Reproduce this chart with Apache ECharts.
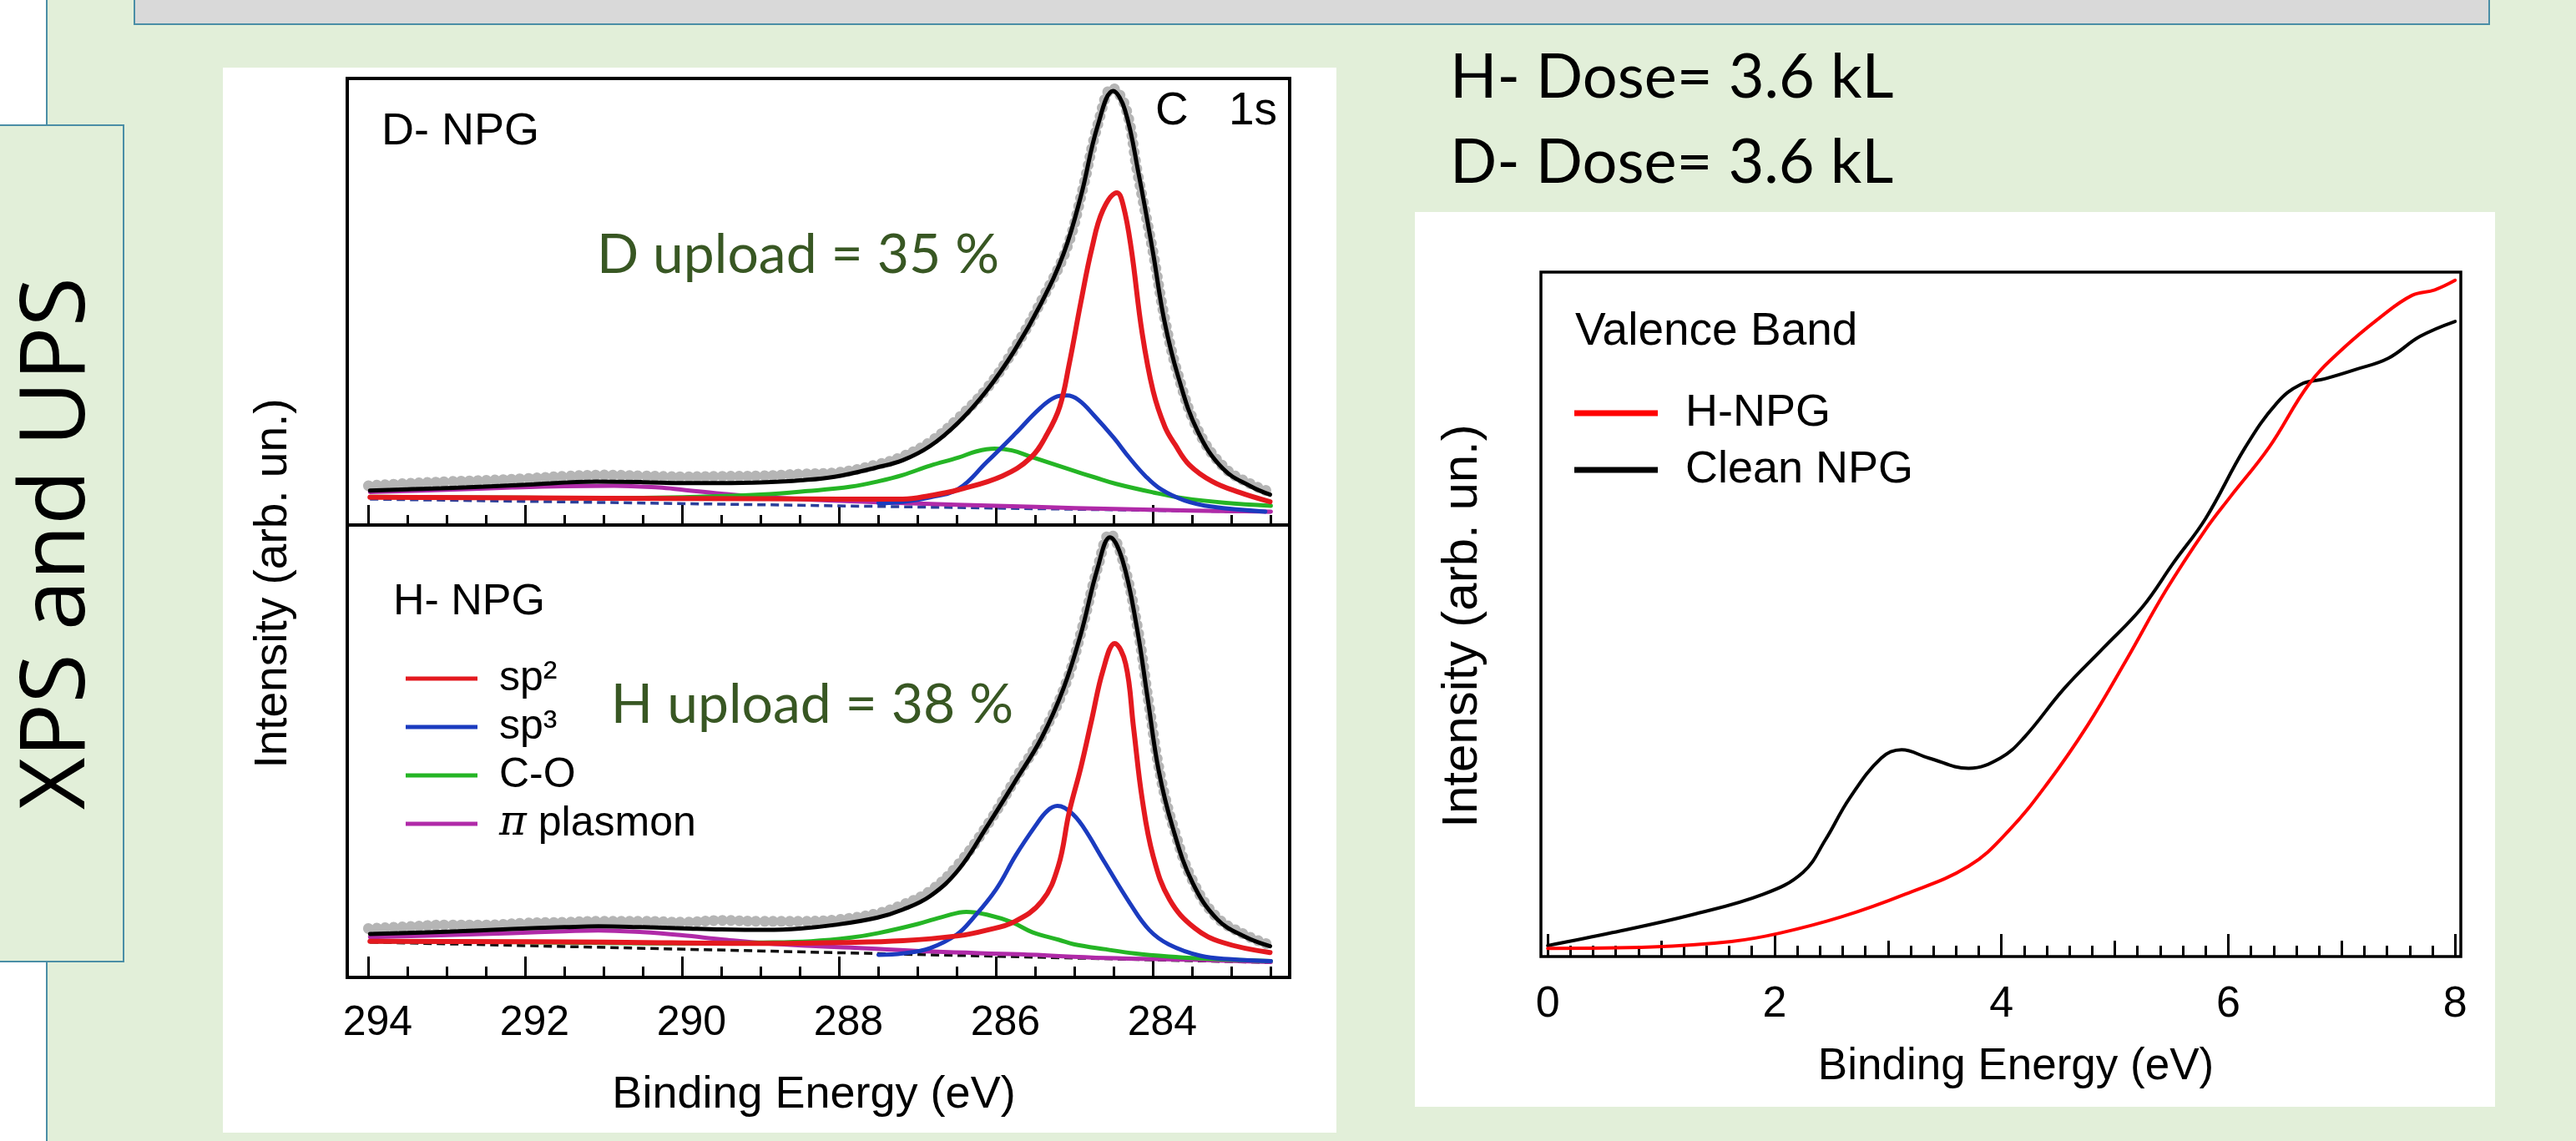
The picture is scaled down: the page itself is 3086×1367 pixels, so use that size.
<!DOCTYPE html>
<html>
<head>
<meta charset="utf-8">
<script src="https://cdn.jsdelivr.net/npm/echarts@6.0.0/dist/echarts.min.js"></script>
<style>
html,body{margin:0;padding:0;background:#e2efd9;}
#chart{width:3086px;height:1367px;}
</style>
</head>
<body>
<div id="chart"></div>
<script>
// ---------- tick labels ----------
const xpsTickLabels = [294, 292, 290, 288, 286, 284];
const vbTickLabels = [0, 2, 4, 6, 8];
const vbMidTicks = [1, 3, 5, 7];

// ---------- C 1s, D-NPG (upper panel) ----------
const dMeasured = [[294.0,8.8],[293.5,9.3],[293.0,9.7],[292.5,10.0],[292.0,10.4],[291.5,10.9],[291.0,11.2],[290.5,11.0],[290.0,10.8],[289.5,10.9],[289.0,11.0],[288.5,11.4],[288.0,11.8],[287.5,13.6],[287.2,15.3],[286.85,18.5],[286.5,23.6],[286.1,31],[285.75,40],[285.4,51],[285.1,62],[284.9,75],[284.7,90],[284.52,97.8],[284.35,93.5],[284.2,79],[284.0,61],[283.85,46],[283.68,33.5],[283.43,21.3],[283.1,13],[282.76,9.2],[282.51,7.4]];
const dEnvelope = [[293.98,7.7],[293.5,8.0],[292.92,8.3],[292.0,9.0],[291.09,9.7],[290.5,9.6],[290.0,9.4],[289.5,9.4],[288.93,9.6],[288.5,10.0],[288.06,10.8],[287.52,12.9],[287.19,14.5],[286.84,17.7],[286.48,23.0],[286.13,29.9],[285.77,39.0],[285.42,49.9],[285.14,60.8],[284.92,73.7],[284.71,89.2],[284.51,97.2],[284.36,93.0],[284.18,78.2],[284.0,60.8],[283.86,46.0],[283.68,33.2],[283.43,20.9],[283.11,12.6],[282.76,8.7],[282.51,6.8]];
const dSp2 = [[293.98,6.2],[291.0,6.0],[289.0,5.9],[288.0,5.8],[287.19,5.8],[286.84,6.6],[286.48,7.9],[285.92,11.0],[285.56,15.1],[285.35,20.4],[285.19,26.5],[285.07,36],[284.92,50],[284.78,62],[284.64,70.5],[284.46,74.4],[284.38,71.5],[284.28,62],[284.14,43],[284.0,30],[283.85,22],[283.72,18],[283.54,13.5],[283.25,9.8],[282.9,7.3],[282.51,5.2]];
const dSp3 = [[287.5,4.9],[287.19,5.2],[286.84,6.2],[286.48,8.1],[286.12,14.1],[285.76,20.4],[285.45,26],[285.25,28.6],[285.10,29.0],[284.95,28.0],[284.75,24.5],[284.5,19.5],[284.3,15],[284.1,11],[283.9,8],[283.6,5.5],[283.25,4.1],[282.57,3.0]];
const dCO = [[293.98,6.3],[292.0,6.1],[291.0,6.0],[290.0,6.2],[289.0,6.8],[288.4,7.6],[287.85,8.6],[287.5,9.8],[287.19,11.2],[286.84,13.3],[286.48,15.1],[286.25,16.5],[286.02,17.1],[285.8,16.7],[285.56,15.3],[285.3,13.8],[285.04,12.3],[284.75,10.7],[284.47,9.2],[284.0,7.3],[283.61,6.0],[283.1,5.0],[282.5,4.3]];
const dPlasmon = [[293.98,7.4],[293.0,7.9],[292.17,8.4],[291.5,8.7],[290.87,8.8],[290.3,8.4],[290.0,7.9],[289.5,7.0],[288.93,6.2],[288.0,5.4],[287.0,4.8],[286.0,4.3],[285.0,3.8],[284.0,3.4],[283.0,3.1],[282.5,3.0]];
const dBackground = [[293.98,5.8],[282.5,2.9]];

// ---------- C 1s, H-NPG (lower panel) ----------
const hMeasured = [[294.0,10.8],[293.5,11.2],[293.0,11.6],[292.5,11.6],[292.0,12.0],[291.5,12.2],[291.0,12.4],[290.5,12.4],[290.0,12.2],[289.5,12.6],[289.0,12.4],[288.5,12.4],[288.0,12.8],[287.5,14.2],[287.2,16.0],[286.85,19.0],[286.5,24.6],[286.1,34],[285.75,44],[285.4,54],[285.1,65.5],[284.9,77.5],[284.7,91],[284.55,98],[284.4,93],[284.2,77.5],[284.05,60],[283.9,44],[283.72,32],[283.5,21.5],[283.2,13.5],[282.85,9.6],[282.55,7.4]];
const hEnvelope = [[293.98,9.6],[293.0,10.1],[292.17,10.7],[291.5,11.1],[291.07,11.3],[290.5,11.1],[290.0,10.85],[289.5,10.6],[288.93,10.5],[288.5,10.8],[288.06,11.6],[287.52,13.2],[287.19,15.0],[286.84,18.0],[286.48,23.8],[286.13,33.0],[285.77,43.0],[285.42,53],[285.14,64.0],[284.92,76.0],[284.71,90.3],[284.55,97.3],[284.39,92.2],[284.21,77.6],[284.07,61.7],[283.93,45.8],[283.75,33.1],[283.5,21.0],[283.18,12.8],[282.83,9.0],[282.51,6.9]];
const hSp2 = [[293.98,8.0],[291.0,7.8],[289.0,7.5],[288.0,7.7],[287.19,8.1],[286.48,9.2],[286.13,10.4],[285.77,12.3],[285.42,16.8],[285.21,24.5],[285.07,36.5],[284.92,46.5],[284.78,57.2],[284.64,67.8],[284.49,73.8],[284.35,69.3],[284.25,55.3],[284.14,39.5],[284.0,26.8],[283.79,17.2],[283.47,10.9],[283.11,7.7],[282.51,5.5]];
const hSp3 = [[287.5,5.0],[287.19,5.3],[286.84,6.5],[286.5,9.5],[286.3,13],[286.0,19.5],[285.75,27],[285.5,33.5],[285.35,36.8],[285.22,37.9],[285.05,36.5],[284.9,33.5],[284.62,25.5],[284.3,16.5],[284.05,10.5],[283.8,7.3],[283.4,4.8],[283.0,4.0],[282.5,3.6]];
const hCO = [[293.98,8.0],[292.0,7.8],[290.0,7.5],[289.0,7.7],[288.36,8.0],[287.85,8.8],[287.5,9.8],[287.0,11.8],[286.66,13.5],[286.38,14.5],[286.1,13.8],[285.8,12.2],[285.54,10.0],[285.2,8.3],[285.0,7.3],[284.6,6.2],[284.24,5.3],[283.8,4.6],[283.4,4.2],[282.5,3.6]];
const hPlasmon = [[293.98,8.9],[292.9,9.4],[292.17,9.8],[291.5,10.2],[291.07,10.4],[290.5,10.0],[290.0,9.3],[289.5,8.4],[288.93,7.5],[288.3,6.9],[287.85,6.6],[286.8,5.7],[285.7,5.1],[284.6,4.3],[283.5,3.9],[282.5,3.4]];
const hBackground = [[293.98,7.8],[282.5,3.3]];

// ---------- Valence band ----------
const vbHNPG = [[0,1.2],[0.92,1.4],[1.62,2.2],[2.04,3.4],[2.59,5.8],[3.15,9.1],[3.71,13.2],[4.06,18.3],[4.41,25.4],[4.76,33.8],[5.1,43.3],[5.45,53.5],[5.8,62.4],[6.01,67.0],[6.36,74.4],[6.71,83.6],[6.99,88.5],[7.34,93.4],[7.62,96.6],[7.82,97.4],[8.0,98.8]];
const vbClean = [[0,1.6],[0.57,3.5],[1.27,6.1],[1.9,9.1],[2.25,12.3],[2.45,17.1],[2.66,23.1],[2.94,29.0],[3.12,30.2],[3.36,29.0],[3.71,27.5],[3.99,29.0],[4.2,32.0],[4.55,39.1],[4.9,45.1],[5.24,51.0],[5.52,57.6],[5.8,64.0],[6.15,74.4],[6.43,80.9],[6.64,83.6],[6.85,84.4],[7.13,85.8],[7.41,87.4],[7.69,90.6],[8.0,92.8]];

// ---------- styling ----------
const FONT = "'Liberation Sans', Arial, Helvetica, sans-serif";
const CAL = "Lato, 'Open Sans', sans-serif";
const BG = '#e2efd9';
const TEAL = '#4a8ea6';
const RED = '#e4191f', BLUE = '#1b3bbf', GREEN = '#25b525', MAG = '#b02aa8', GRAY = '#b5b5b5';

const xpsMinor = []; for (let v = 282.5; v <= 294.001; v += 0.5) xpsMinor.push(+v.toFixed(2));
const vbMinor = []; for (let k = 0; k <= 40; k++) vbMinor.push(+(k * 0.2).toFixed(2));

function xAx(gridIndex, min, max, inverse, ticks, len, labels, labelExtra) {
  const ax = {
    type: 'value', gridIndex, min, max, inverse, position: 'bottom',
    axisLine: { show: false, onZero: false },
    splitLine: { show: false },
    axisTick: { show: true, inside: true, length: len, lineStyle: { color: '#000', width: 3 }, customValues: ticks },
    axisLabel: { show: false, customValues: ticks }
  };
  if (labels) {
    ax.axisLabel = Object.assign({ show: true, customValues: labels, color: '#000', fontFamily: FONT }, labelExtra);
  }
  return ax;
}
function yAx(gridIndex) {
  return { type: 'value', gridIndex, min: 0, max: 100, show: false, splitLine: { show: false } };
}
function ln(name, data, color, width, xi, yi, extra) {
  return Object.assign({
    type: 'line', name, data, xAxisIndex: xi, yAxisIndex: yi,
    showSymbol: false, symbol: 'none', smooth: 0.4,
    lineStyle: { color, width, join: 'round', cap: 'round' }, itemStyle: { color }, z: 3, silent: true
  }, extra || {});
}
function measured(data, xi, yi) {
  return {
    type: 'line', name: 'data', data, xAxisIndex: xi, yAxisIndex: yi,
    showSymbol: false, symbol: 'none', smooth: 0.4, silent: true,
    lineStyle: { color: GRAY, width: 13, type: [0.1, 10], cap: 'round' }, z: 1
  };
}
function dashed(data, color, xi, yi) {
  return {
    type: 'line', name: 'bg', data, xAxisIndex: xi, yAxisIndex: yi,
    showSymbol: false, symbol: 'none', silent: true,
    lineStyle: { color, width: 3.5, type: [10, 6] }, z: 2
  };
}
function txt(text, x, y, font, fill, align, rotation, extra) {
  return Object.assign({
    type: 'text', x, y, rotation: rotation || 0, z: 100, silent: true,
    style: { text, font, fill: fill || '#000', align: align || 'left', verticalAlign: 'middle' }
  }, extra || {});
}

const option = {
  backgroundColor: BG,
  animation: false,
  grid: [
    { left: 416, top: 94, width: 1129, height: 535, show: true, borderColor: '#000', borderWidth: 4, backgroundColor: 'rgba(0,0,0,0)' },
    { left: 416, top: 629, width: 1129, height: 542, show: true, borderColor: '#000', borderWidth: 4, backgroundColor: 'rgba(0,0,0,0)' },
    { left: 1846, top: 326, width: 1102, height: 820, show: true, borderColor: '#000', borderWidth: 3.5, backgroundColor: 'rgba(0,0,0,0)' }
  ],
  xAxis: [
    xAx(0, 282.26, 294.27, true, xpsTickLabels, 24),
    xAx(0, 282.26, 294.27, true, xpsMinor, 12),
    xAx(1, 282.26, 294.27, true, xpsTickLabels, 25, xpsTickLabels, { fontSize: 50, margin: 30, padding: [0, 0, 0, 22] }),
    xAx(1, 282.26, 294.27, true, xpsMinor, 13),
    xAx(2, -0.06, 8.05, false, vbTickLabels, 27, vbTickLabels, { fontSize: 52, margin: 32 }),
    xAx(2, -0.06, 8.05, false, vbMidTicks, 19),
    xAx(2, -0.06, 8.05, false, vbMinor, 13)
  ],
  yAxis: [yAx(0), yAx(1), yAx(2)],
  legend: [
    {
      data: ['sp²', 'sp³', 'C-O', 'π plasmon'], orient: 'vertical', left: 481, top: 779,
      itemWidth: 86, itemHeight: 5, itemGap: 0, icon: 'rect', selectedMode: false,
      formatter: n => n === 'π plasmon' ? '{i|π} plasmon' : n,
      textStyle: { fontSize: 50, fontFamily: FONT, color: '#000', lineHeight: 58, padding: [0, 0, 0, 21],
        rich: { i: { fontStyle: 'italic', fontSize: 50, fontFamily: "'DejaVu Serif', serif", color: '#000' } } }
    },
    {
      data: ['H-NPG', 'Clean NPG'], orient: 'vertical', left: 1881, top: 456,
      itemWidth: 100, itemHeight: 7, itemGap: 0, icon: 'rect', selectedMode: false,
      textStyle: { fontSize: 54, fontFamily: FONT, color: '#000', lineHeight: 68, padding: [0, 0, 0, 28] }
    }
  ],
  series: [
    measured(dMeasured, 0, 0),
    dashed(dBackground, '#2b3f9a', 0, 0),
    ln('π plasmon', dPlasmon, MAG, 5, 0, 0),
    ln('C-O', dCO, GREEN, 5, 0, 0),
    ln('sp³', dSp3, BLUE, 5, 0, 0),
    ln('sp²', dSp2, RED, 6, 0, 0),
    ln('D envelope', dEnvelope, '#000', 5, 0, 0, { z: 4 }),

    measured(hMeasured, 2, 1),
    dashed(hBackground, '#111', 2, 1),
    ln('π plasmon', hPlasmon, MAG, 5, 2, 1),
    ln('C-O', hCO, GREEN, 5, 2, 1),
    ln('sp³', hSp3, BLUE, 5, 2, 1),
    ln('sp²', hSp2, RED, 6, 2, 1),
    ln('H envelope', hEnvelope, '#000', 5, 2, 1, { z: 4 }),

    ln('Clean NPG', vbClean, '#000', 4, 4, 2),
    ln('H-NPG', vbHNPG, '#ff0000', 4, 4, 2, { z: 4 })
  ],
  graphic: {
    elements: [
      { type: 'rect', z: -10, silent: true, shape: { x: 0, y: 0, width: 56, height: 1367 }, style: { fill: '#ffffff' } },
      { type: 'line', z: -9, silent: true, shape: { x1: 56, y1: 0, x2: 56, y2: 1367 }, style: { stroke: TEAL, lineWidth: 2 } },
      { type: 'rect', z: -8, silent: true, shape: { x: -4, y: 150, width: 152, height: 1002 }, style: { fill: BG, stroke: TEAL, lineWidth: 2 } },
      { type: 'rect', z: -8, silent: true, shape: { x: 161, y: -10, width: 2821, height: 39 }, style: { fill: '#d9d9d9', stroke: TEAL, lineWidth: 2 } },
      { type: 'rect', z: -8, silent: true, shape: { x: 267, y: 81, width: 1334, height: 1276 }, style: { fill: '#ffffff' } },
      { type: 'rect', z: -8, silent: true, shape: { x: 1695, y: 254, width: 1294, height: 1072 }, style: { fill: '#ffffff' } },

      txt('XPS and UPS', 70, 651, "108px 'Open Sans', 'DejaVu Sans', sans-serif", '#000', 'center', Math.PI / 2),

      txt('D- NPG', 457, 158, '54px ' + FONT),
      txt('H- NPG', 471, 722, '52px ' + FONT),
      txt('C', 1384, 134, '55px ' + FONT),
      txt('1s', 1530, 134, '55px ' + FONT, '#000', 'right'),
      txt('D upload = 35 %', 956, 306, '66px ' + CAL, '#385723', 'center'),
      txt('H upload = 38 %', 973, 845, '66px ' + CAL, '#385723', 'center'),
      txt('Intensity (arb. un.)', 328, 699, '55px ' + FONT, '#000', 'center', Math.PI / 2),
      txt('Binding Energy (eV)', 975, 1312, '54px ' + FONT, '#000', 'center'),

      txt('H- Dose= 3.6 kL', 1737, 93, '74px ' + CAL),
      txt('D- Dose= 3.6 kL', 1737, 195, '74px ' + CAL),

      txt('Valence Band', 1887, 398, '55px ' + FONT),
      txt('Intensity (arb. un.)', 1752, 750, '60px ' + FONT, '#000', 'center', Math.PI / 2),
      txt('Binding Energy (eV)', 2415, 1278, '53px ' + FONT, '#000', 'center')
    ]
  }
};

const chart = echarts.init(document.getElementById('chart'), null, { renderer: 'canvas', width: 3086, height: 1367 });
chart.setOption(option);
</script>
</body>
</html>
